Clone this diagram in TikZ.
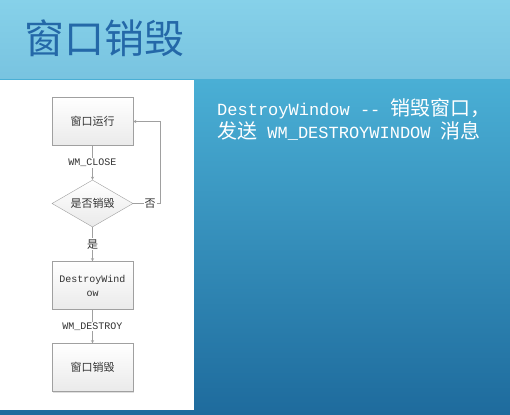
\documentclass[tikz,border=0pt]{standalone}
\usepackage{fontspec}
\setmonofont{Liberation Mono}
\newfontfamily\cjk{Noto Sans CJK SC}
\usepackage{tikz}
\usetikzlibrary{arrows,shapes,positioning,shadows}
\definecolor{wmgray}{RGB}{160,160,160}
\definecolor{wmbox}{RGB}{234,234,234}
\definecolor{wmtext}{RGB}{50,50,50}
\definecolor{wmtitle}{RGB}{36,104,168}
\definecolor{wmsky}{RGB}{134,209,233}
\definecolor{wmskylow}{RGB}{120,195,224}
\definecolor{wmtop}{RGB}{74,175,213}
\definecolor{wmbottom}{RGB}{30,107,157}
\tikzstyle{arrow} = [thin,->,>=stealth,color=wmgray]
\tikzstyle{stepbox} = [rectangle, minimum width=81pt, minimum height=48pt, draw=wmgray, top color=white, bottom color=wmbox, text=wmtext, align=center, font=\cjk\fontsize{11}{13}\selectfont, drop shadow={opacity=0.25, shadow xshift=1pt, shadow yshift=-1pt}]
\tikzstyle{decision} = [diamond, aspect=1.7, inner sep=0pt, minimum width=81pt, minimum height=47pt, draw=wmgray, top color=white, bottom color=wmbox, text=wmtext, font=\cjk\fontsize{11}{13}\selectfont]
\tikzstyle{lbl} = [fill=white, inner sep=1pt, text=wmtext, font=\ttfamily\fontsize{10}{12}\selectfont]
\tikzstyle{lblcjk} = [lbl, font=\cjk\fontsize{11}{13}\selectfont]
\tikzstyle{desc} = [anchor=base west, inner sep=0pt, text=white, font=\ttfamily\fontsize{17}{23}\selectfont]

\begin{document}
\begin{tikzpicture}[x=1pt, y=1pt, node distance=82pt]
\useasboundingbox (0,0) rectangle (510,414);
% Background
\shade[top color=wmsky, bottom color=wmskylow] (0,334) rectangle (510,414);
\shade[top color=wmtop, bottom color=wmbottom] (0,0) rectangle (510,334);
\fill[white] (0,4) rectangle (194,334);

% Title
\node (title) [anchor=west, inner sep=0pt, text=wmtitle, font=\cjk\fontsize{40}{44}\selectfont] at (24,376) {窗口销毁};

% Flow
\node (run) [stepbox] at (92.5,292.5) {窗口运行};
\node (ask) [decision, below of=run] {是否销毁};
\node (destroy) [stepbox, below of=ask, font=\ttfamily\fontsize{10}{14}\selectfont] {DestroyWind\\ow};
\node (gone) [stepbox, below of=destroy] {窗口销毁};
\coordinate (turn) at (160,0);

\draw[arrow] (run) -- node[lbl] {WM\_CLOSE} (ask);
\draw[arrow] (ask) -- node[lblcjk] {是} (destroy);
\draw[arrow] (destroy) -- node[lbl] {WM\_DESTROY} (gone);
\draw[arrow] (ask.east) -- node[lblcjk, pos=0.63] {否} (ask.east -| turn) |- (run.east);

% Description
\node (desc1) [desc] at (217,298) {DestroyWindow -{}- {\cjk\fontsize{20}{23}\selectfont 销毁窗口，}};
\node (desc2) [desc] at (217,275) {{\cjk\fontsize{20}{23}\selectfont 发送} WM\_DESTROYWINDOW {\cjk\fontsize{20}{23}\selectfont 消息}};
\end{tikzpicture}
\end{document}
